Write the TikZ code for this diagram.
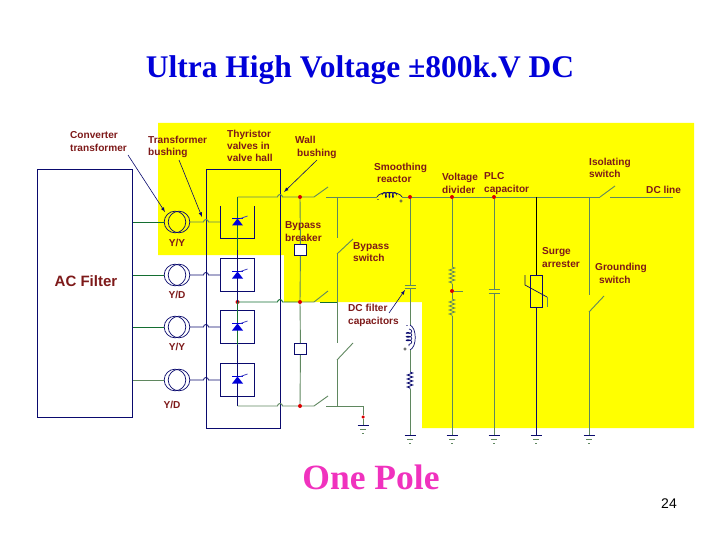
\documentclass[tikz,border=0pt]{standalone}
\usepackage{fontspec}
\setmainfont{Liberation Serif}
\setsansfont{Liberation Sans}
\usetikzlibrary{decorations.pathmorphing}
\definecolor{hallyellow}{RGB}{255,255,0}
\definecolor{wiregreen}{RGB}{95,135,95}
\definecolor{darkwire}{RGB}{20,110,50}
\definecolor{navywire}{RGB}{10,10,110}
\definecolor{labelred}{RGB}{125,25,25}
\definecolor{pinktext}{RGB}{240,50,190}
\tikzset{
  lbl/.style={font=\sffamily\bfseries\fontsize{10.1}{12.3}\selectfont, text=labelred, anchor=west, align=left, inner sep=0},
  wire/.style={wiregreen, line width=0.9pt},
  gwire/.style={darkwire, line width=0.9pt},
  bwire/.style={navywire, line width=0.8pt},
  hallbox/.style={draw=navywire, line width=0.8pt, fill=none, inner sep=0},
  valvebox/.style={minimum width=33pt, minimum height=32pt, inner sep=0},
  bypassbox/.style={draw=navywire, line width=0.8pt, fill=white, minimum width=12pt, minimum height=11pt, inner sep=0},
  bypassdot/.style={circle, fill=red!85!black, minimum size=4pt, inner sep=0},
  callout/.style={-latex, navywire, line width=0.6pt},
  gnd/.pic={
    \draw[bwire, line width=0.8pt] (-5.5,0) -- (5.5,0);
    \draw[wiregreen, line width=0.8pt] (-3,4) -- (3,4);
    \draw[wiregreen, line width=0.8pt] (-0.7,8) -- (0.7,8);
  },
  thyristor/.pic={
    \fill[blue!85!black] (-5.5,3.5) -- (5.5,3.5) -- (0,-3.5) -- cycle;
    \draw[blue!85!black, line width=1.1pt] (-5.5,-3.5) -- (5.5,-3.5);
    \draw[blue!50!gray, line width=0.8pt] (3,-3.5) -- (10,-6);
  },
  transformer/.pic={
    \draw[navywire, line width=0.7pt] (-2,0) circle [radius=10.8];
    \draw[navywire, line width=0.7pt] (2,0) circle [radius=10.8];
  }
}
\begin{document}
\begin{tikzpicture}[x=1pt, y=-1pt]
  \useasboundingbox (0,0) rectangle (720,540);

  % yellow outdoor area
  \fill[hallyellow] (158,123) -- (694,123) -- (694,428) -- (422,428) -- (422,302)
     -- (284,302) -- (284,255) -- (158,255) -- cycle;

  % title and page text
  \node[text=blue!85!black, font=\bfseries\fontsize{31.5}{33}\selectfont] (title) at (360,70) {Ultra High Voltage ±800k.V DC};
  \node[text=pinktext, font=\bfseries\fontsize{35.5}{38}\selectfont] (pole) at (371,477) {One Pole};
  \node[font=\sffamily\fontsize{14}{16}\selectfont] (pageno) at (669,504) {24};

  % AC filter and valve hall
  \node[hallbox, minimum width=95pt, minimum height=248pt] (acfilter) at (85,293) {};
  \node[hallbox, minimum width=74pt, minimum height=259pt] (hall) at (243,298.5) {};
  \node[font=\sffamily\bfseries\fontsize{15}{17}\selectfont, text=labelred] (aclabel) at (86,281) {AC Filter};

  % the four converter rows
  \foreach \n/\y/\ccol/\rcol in {1/222/gwire/wire, 2/275/gwire/bwire, 3/327/gwire/bwire, 4/380/wire/bwire} {
    \node[valvebox] (valve\n) at (237.5,\y) {};
    \node[minimum size=26pt, inner sep=0] (xfmr\n) at (177,\y) {};
    \pic at (xfmr\n) {transformer};
    \draw[\ccol] (acfilter.east |- xfmr\n) -- (xfmr\n.west);
    \draw[\rcol] (xfmr\n.east) -- (203.5,\y) arc[start angle=180, end angle=360, radius=2.5] -- (valve\n.west);
  }
  \draw[bwire] (valve1.north west) -- (valve1.south west) -- (valve1.south east) -- (valve1.north east);
  \foreach \n in {2,3,4} {
    \draw[bwire] (valve\n.north west) rectangle (valve\n.south east);
  }

  % valve column and buses
  \coordinate (vtop) at (237.5,197);
  \coordinate (vmid) at (237.5,302);
  \coordinate (vbot) at (237.5,406);
  \node[bypassdot] (dotA) at (300,197) {};
  \node[bypassdot] (dotB) at (300,302) {};
  \node[bypassdot] (dotC) at (300,406) {};
  \node[bypassdot] (dotV) at (vmid) {};
  \draw[gwire] (vtop) -- (237.5,250);
  \draw[bwire] (237.5,250) -- (vmid);
  \draw[gwire] (vmid) -- (237.5,345);
  \draw[bwire] (237.5,345) -- (vbot);
  \foreach \a/\b/\s in {vtop/dotA/wire, vmid/dotB/gwire, vbot/dotC/wire} {
    \draw[\s] (\a) -- (277.5,0 |- \a) arc[start angle=180, end angle=360, radius=2.5] -- (\b);
  }
  \foreach \n in {1,2,3,4} {
    \pic at (valve\n) {thyristor};
  }

  % bypass breaker column
  \node[bypassbox] (brkA) at (300.5,250) {};
  \node[bypassbox] (brkB) at (300.5,349) {};
  \draw[wire] (dotA) -- (brkA);
  \draw[wire] (brkA) -- (dotB);
  \draw[wire] (dotB) -- (brkB);
  \draw[wire] (brkB) -- (dotC);

  % breakers in the line
  \foreach \a/\y/\b in {dotA/197/187, dotB/302/291, dotC/406/396} {
    \draw[wire] (\a) -- (314,\y) -- (328,\b);
  }
  \coordinate (busL) at (326,197);
  \coordinate (busR) at (600,197);

  % bypass switch column
  \coordinate (swA) at (337,238);
  \coordinate (swB) at (337,254);
  \coordinate (swC) at (337,343);
  \coordinate (swD) at (337,360);
  \coordinate (lowL) at (326,406);
  \coordinate (gndS) at (363,406);
  \draw[wire] (337,197) -- (swA);
  \draw[wire] (swB) -- (353,239);
  \draw[gwire] (320,302) -- (337,302);
  \draw[wire] (swB) -- (swC);
  \draw[wire] (swD) -- (353,343);
  \draw[wire] (swD) -- (337,406);
  \draw[wire] (lowL) -- (gndS);
  \node[bypassdot, minimum size=3.5pt] (dotS) at (363,417) {};
  \draw[wire] (gndS) -- (dotS);
  \draw[wire] (dotS) -- (363,425);
  \pic at (363,425) {gnd};

  % main bus
  \node[bypassdot] (dotF) at (410,197) {};
  \node[bypassdot] (dotP) at (452,197) {};
  \node[bypassdot] (dotQ) at (494,197) {};
  \coordinate (reacL) at (377,197);
  \coordinate (reacR) at (402,197);
  \draw[wire] (busL) -- (reacL);
  \draw[navywire, line width=0.7pt] (reacL) .. controls (379,191) and (400,191) .. (reacR);
  \draw[navywire, line width=0.7pt, decorate, decoration={coil, amplitude=2.6pt, segment length=3.5pt}] (382,195) -- (397,195);
  \draw[wire] (reacR) -- (dotF);
  \draw[wire] (dotF) -- (dotP);
  \draw[wire] (dotP) -- (dotQ);
  \draw[wire] (dotQ) -- (busR);
  \draw[wire] (busR) -- (615,186);
  \coordinate (lineL) at (610,197);
  \coordinate (lineR) at (673,197);
  \draw[wire] (lineL) -- (lineR);
  \node[font=\sffamily\bfseries\fontsize{6}{6}\selectfont, text=navywire, inner sep=0] (reacM) at (378,201) {-};
  \node[font=\sffamily\bfseries\fontsize{6}{6}\selectfont, text=navywire, inner sep=0] (reacP) at (401,202) {+};

  % ground points
  \foreach \x/\name in {410/gF, 452/gP, 494/gQ, 536/gS, 589/gG} {
    \coordinate (\name) at (\x,435);
    \pic at (\name) {gnd};
  }

  % DC filter branch
  \coordinate (capF) at (410,285);
  \coordinate (capG) at (410,288);
  \draw[wire] (dotF) -- (capF);
  \draw[wire, line width=0.8pt] (404.5,285) -- (415.5,285);
  \draw[wire, line width=0.8pt] (404.5,288) -- (415.5,288);
  \coordinate (coilT) at (410,325);
  \coordinate (coilB) at (410,350);
  \coordinate (resT) at (410,372);
  \coordinate (resB) at (410,389);
  \draw[wire] (capG) -- (coilT);
  \draw[navywire, line width=0.7pt, decorate, decoration={coil, amplitude=2.8pt, segment length=3.6pt}] (409,329) -- (409,346);
  \draw[navywire, line width=0.7pt] (coilT) .. controls (417,328) and (417,347) .. (coilB);
  \draw[wire] (coilB) -- (resT);
  \draw[navywire, line width=0.8pt, decorate, decoration={zigzag, amplitude=2.8pt, segment length=4pt}] (resT) -- (resB);
  \draw[wire] (resB) -- (gF);
  \node[font=\sffamily\bfseries\fontsize{6}{6}\selectfont, text=navywire, inner sep=0] (coilM) at (407,327) {-};
  \node[font=\sffamily\bfseries\fontsize{6}{6}\selectfont, text=black, inner sep=0] (coilP) at (405,350) {+};

  % voltage divider
  \node[bypassdot] (dotD) at (452,291) {};
  \draw[wire] (dotP) -- (452,267);
  \draw[wire, line width=0.8pt, decorate, decoration={zigzag, amplitude=2.8pt, segment length=4pt}] (452,267) -- (452,284);
  \draw[wire] (452,284) -- (dotD);
  \draw[wire] (dotD) -- (463,291);
  \draw[wire] (dotD) -- (452,299);
  \draw[wire, line width=0.8pt, decorate, decoration={zigzag, amplitude=2.8pt, segment length=4pt}] (452,299) -- (452,316);
  \draw[wire] (452,316) -- (gP);

  % PLC capacitor
  \draw[wire] (dotQ) -- (494,289);
  \draw[wire, line width=0.8pt] (488.5,289) -- (499.5,289);
  \draw[wire, line width=0.8pt] (488.5,293) -- (499.5,293);
  \draw[wire] (494,293) -- (gQ);

  % surge arrester
  \node[draw=navywire, line width=0.8pt, minimum width=12pt, minimum height=32pt, inner sep=0] (arrester) at (536,291) {};
  \draw[bwire, black] (536,197) -- (arrester.north);
  \draw[bwire] (arrester.south) -- (gS);
  \draw[navywire, line width=0.7pt] (525,275) -- (525,285) -- (547,297);
  \draw[wire, line width=0.9pt] (547,297) -- (547,307);

  % grounding switch
  \coordinate (grndA) at (589,295);
  \coordinate (grndB) at (589,312);
  \draw[wire] (589,197) -- (grndA);
  \draw[wire] (grndB) -- (604,296);
  \draw[wire] (grndB) -- (gG);

  % labels
  \node[lbl] (lblconv) at (70,141.5) {Converter\\transformer};
  \node[lbl] (lbltrans) at (148,147) {Transformer\\bushing};
  \node[lbl] (lblthy) at (227,146) {Thyristor\\valves in\\valve hall};
  \node[lbl] (lblwall) at (295,147.5) {Wall\\\hspace*{2pt}bushing};
  \node[lbl] (lblbrk) at (285,231.5) {Bypass\\breaker};
  \node[lbl] (lblsw) at (353,252) {Bypass\\switch};
  \node[lbl] (lblsmo) at (374,173) {Smoothing\\\hspace*{3pt}reactor};
  \node[lbl] (lblvolt) at (442,183.5) {Voltage\\divider};
  \node[lbl] (lblplc) at (484,183.5) {PLC\\capacitor};
  \node[lbl] (lbliso) at (589,168) {Isolating\\switch};
  \node[lbl] (lbldc) at (646,190) {DC line};
  \node[lbl] (lblsur) at (542,257.5) {Surge\\arrester};
  \node[lbl] (lblgnd) at (595,273.5) {Grounding\\\hspace*{4pt}switch};
  \node[lbl] (lblfil) at (348,315.5) {DC filter\\capacitors};
  \foreach \x/\y/\t in {177/243/Y\slash Y, 177/295/Y\slash D, 177/347/Y\slash Y, 172/405/Y\slash D} {
    \node[lbl, anchor=center] at (\x,\y) {\t};
  }

  % callouts
  \draw[callout] (128,155) -- (165,212);
  \draw[callout] (179,160) -- (202,217);
  \draw[callout] (317,160) -- (284,192);
  \draw[callout] (389,313) -- (405,290);
\end{tikzpicture}
\end{document}
